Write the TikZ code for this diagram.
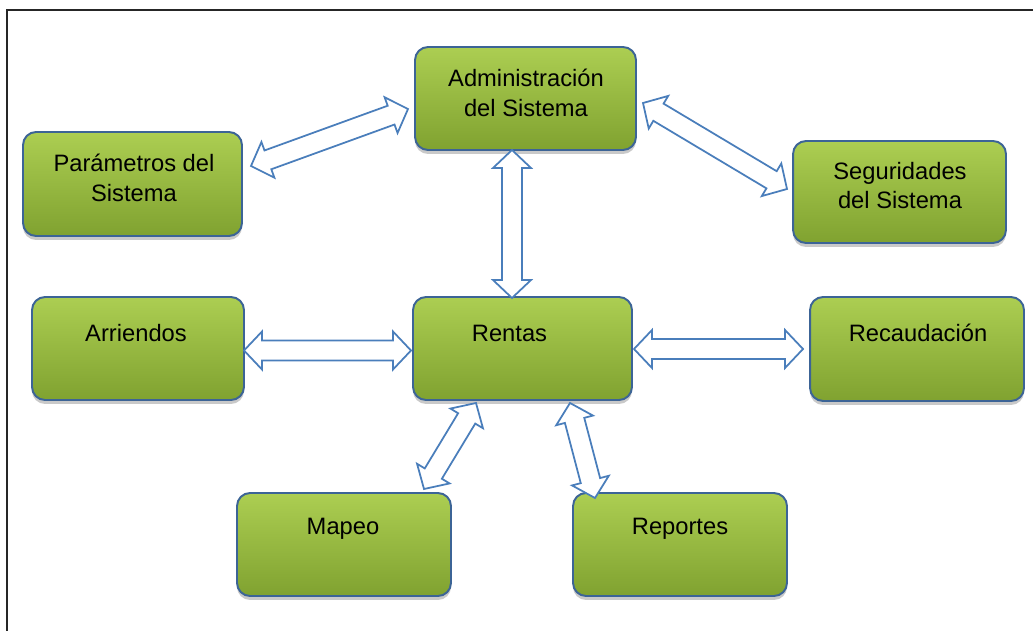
\documentclass[tikz,border=0pt]{standalone}
\usepackage{fontspec}
\setmainfont{Liberation Sans}
\usetikzlibrary{calc,shadows}
\definecolor{gtop}{RGB}{172,206,82}
\definecolor{gmid}{RGB}{156,192,66}
\definecolor{gbot}{RGB}{128,162,48}
\definecolor{bdr}{RGB}{60,100,150}
\definecolor{arr}{RGB}{74,126,187}
\def\hl{0.36cm}
\def\hw{0.38cm}
\def\sw{0.2cm}
\newcommand\dblarr[2]{%
  \path ($(#1)!\hl!(#2)$) coordinate (p1) ($(#2)!\hl!(#1)$) coordinate (p2);
  \draw[blockarr] (#1) -- ($(p1)!\hw!90:(#2)$) -- ($(p1)!\sw!90:(#2)$) -- ($(p2)!\sw!90:(#2)$) -- ($(p2)!\hw!90:(#2)$) -- (#2) -- ($(p2)!\hw!-90:(#2)$) -- ($(p2)!\sw!-90:(#2)$) -- ($(p1)!\sw!-90:(#2)$) -- ($(p1)!\hw!-90:(#2)$) -- cycle;}
\tikzset{
  box/.style={draw=bdr, line width=1.1pt, rounded corners=0.26cm, top color=gtop, middle color=gmid, bottom color=gbot,
    drop shadow={shadow xshift=0pt, shadow yshift=-0.08cm, opacity=0.35, fill=black!60},
    inner sep=0pt},
  lbl/.style={align=center, font=\fontsize{13.5}{17}\selectfont, text=black, inner sep=0pt},
  blockarr/.style={draw=arr, fill=white, line width=1pt, line join=miter},
}
\begin{document}
\begin{tikzpicture}[x=0.02cm, y=-0.02cm]
\useasboundingbox (0,0) rectangle (1033,631);
\fill[white] (0,0) rectangle (1033,631);
\draw[line width=1.2pt, black!85] (7,631) coordinate (fb) -- (7,10) coordinate (fc) -- (1033,10) coordinate (fr);
% boxes
\node[box, minimum width=4.42cm, minimum height=2.06cm] (admin) at (525.5,98.5) {};
\node[box, minimum width=4.38cm, minimum height=2.08cm] (param) at (132.5,184) {};
\node[box, minimum width=4.26cm, minimum height=2.04cm] (segur) at (899.5,192) {};
\node[box, minimum width=4.24cm, minimum height=2.06cm] (arrie) at (138,348.5) {};
\node[box, minimum width=4.38cm, minimum height=2.06cm] (rentas) at (522.5,348.5) {};
\node[box, minimum width=4.28cm, minimum height=2.08cm] (recau) at (917,349) {};
\node[box, minimum width=4.28cm, minimum height=2.06cm] (mapeo) at (344,544.5) {};
\node[box, minimum width=4.28cm, minimum height=2.06cm] (repor) at (680,544.5) {};
% labels
\node[lbl] (admin-t) at (526,93) {Administración\\del Sistema};
\node[lbl] (param-t) at (134,177.5) {Parámetros del\\Sistema};
\node[lbl] (segur-t) at (900,185.5) {Seguridades\\del Sistema};
\node[lbl] (arrie-t) at (136,333) {Arriendos};
\node[lbl] (rentas-t) at (509.5,333) {Rentas};
\node[lbl] (recau-t) at (918,333) {Recaudación};
\node[lbl] (mapeo-t) at (343,529) {Mapeo};
\node[lbl] (repor-t) at (680,529) {Reportes};
% arrow end points
\coordinate (a1s) at (251,166); \coordinate (a1e) at (408,109);
\coordinate (a2s) at (512,150); \coordinate (a2e) at (512,298);
\coordinate (a3s) at (643,103); \coordinate (a3e) at (787,189);
\coordinate (a4s) at (244,350.5); \coordinate (a4e) at (411,350.5);
\coordinate (a5s) at (634,349); \coordinate (a5e) at (803,349);
\coordinate (a6s) at (476,403); \coordinate (a6e) at (424,489);
\coordinate (a7s) at (570,403); \coordinate (a7e) at (595,498);
\dblarr{a1s}{a1e}
\dblarr{a2s}{a2e}
\dblarr{a3s}{a3e}
\dblarr{a4s}{a4e}
\dblarr{a5s}{a5e}
\dblarr{a6s}{a6e}
\dblarr{a7s}{a7e}
\end{tikzpicture}
\end{document}
